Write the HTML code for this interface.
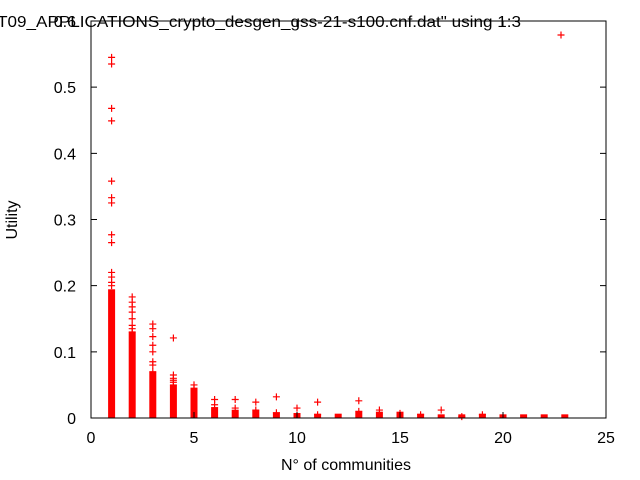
<!DOCTYPE html>
<html><head><meta charset="utf-8"><style>
body{margin:0;background:#fff}
svg{display:block;font-family:"Liberation Sans","DejaVu Sans",sans-serif}
</style></head><body>
<svg id="chart" width="640" height="480" viewBox="0 0 640 480">
<rect width="640" height="480" fill="#fff"/>
<g id="marks"></g>
<rect x="91" y="21" width="515" height="397" fill="none" stroke="#000" stroke-width="1"/>
<g id="axes"></g>
<text x="-9" y="27" font-size="16" textLength="530" lengthAdjust="spacingAndGlyphs">"T09_APPLICATIONS_crypto_desgen_gss-21-s100.cnf.dat" using 1:3</text>
<text x="346" y="470" font-size="16" text-anchor="middle">N° of communities</text>
<text transform="translate(17,220) rotate(-90)" font-size="16" text-anchor="middle">Utility</text>
</svg>
<script>
const xTicks=[0,5,10,15,20,25];
const yTicks=[0,0.1,0.2,0.3,0.4,0.5,0.6];
const denseX=[1,2,3,4,5,6,7,8,9,10,11,12,13,14,15,16,17,18,19,20,21,22,23];
const denseTop=[0.19,0.125,0.065,0.045,0.04,0.012,0.008,0.007,0.004,0.003,0.002,0.002,0.005,0.005,0.005,0.002,0.001,0.001,0.002,0.001,0.001,0.001,0.001];
const ptX=[1,1,1,1,1,1,1,1,1,1,1,1,1,2,2,2,2,2,2,2,2,3,3,3,3,3,3,3,3,4,4,4,4,4,4,5,5,6,6,7,7,8,8,9,9,10,11,11,13,13,14,15,16,17,18,19];
const ptY=[0.545,0.535,0.468,0.449,0.358,0.333,0.325,0.277,0.265,0.22,0.213,0.205,0.2,0.183,0.175,0.168,0.16,0.15,0.14,0.135,0.13,0.142,0.135,0.123,0.11,0.1,0.085,0.08,0.07,0.121,0.065,0.06,0.057,0.054,0.05,0.05,0.045,0.028,0.02,0.028,0.015,0.024,0.012,0.032,0.008,0.015,0.024,0.005,0.026,0.01,0.012,0.007,0.005,0.012,0.002,0.005];
const NS='http://www.w3.org/2000/svg';
const X0=91,X1=606,Y0=418,Y1=21;
function sx(v){return X0+(v-0)/(25-0)*(X1-X0);}
function sy(v){return Y0-(v-0)/(0.6-0)*(Y0-Y1);}
const marks=document.getElementById('marks'),axes=document.getElementById('axes');
function mk(tag,attrs,parent){const e=document.createElementNS(NS,tag);for(const k in attrs)e.setAttribute(k,attrs[k]);parent.appendChild(e);return e;}
xTicks.forEach(t=>{
  const x=sx(t);
  const l=mk('path',{d:`M${x},${Y0}v-6M${x},${Y1}v6`,stroke:'#000'},axes);
  
  
  const tx=mk('text',{x:x,y:Y0+25,'font-size':16,'text-anchor':'middle'},axes);
  tx.textContent=t;
  
  
});
yTicks.forEach(t=>{
  const y=sy(t);
  const l=mk('path',{d:`M${X0},${y}h6M${X1},${y}h-6`,stroke:'#000'},axes);
  
  
  const tx=mk('text',{x:X0-15,y:y+6,'font-size':16,'text-anchor':'end'},axes);
  tx.textContent=t===0?'0':String(t);
  
  
});
denseX.forEach((v,i)=>{
  const x=sx(v),y=sy(denseTop[i]);
  const r=mk('rect',{x:x-3.5,y:y-3,width:7,height:Math.max(Y0-y+3,1),fill:'#f00'},marks);
  
  
});
function cross(x,y,name){
  const p=mk('path',{d:`M${x-3.5},${y}h7M${x},${y-3.5}v7`,stroke:'#f00','stroke-width':1.2},marks);
  
  
}
ptX.forEach((v,i)=>cross(sx(v),sy(ptY[i]),'data-point'));
cross(561,35,'legend-marker');
</script>
</body></html>
